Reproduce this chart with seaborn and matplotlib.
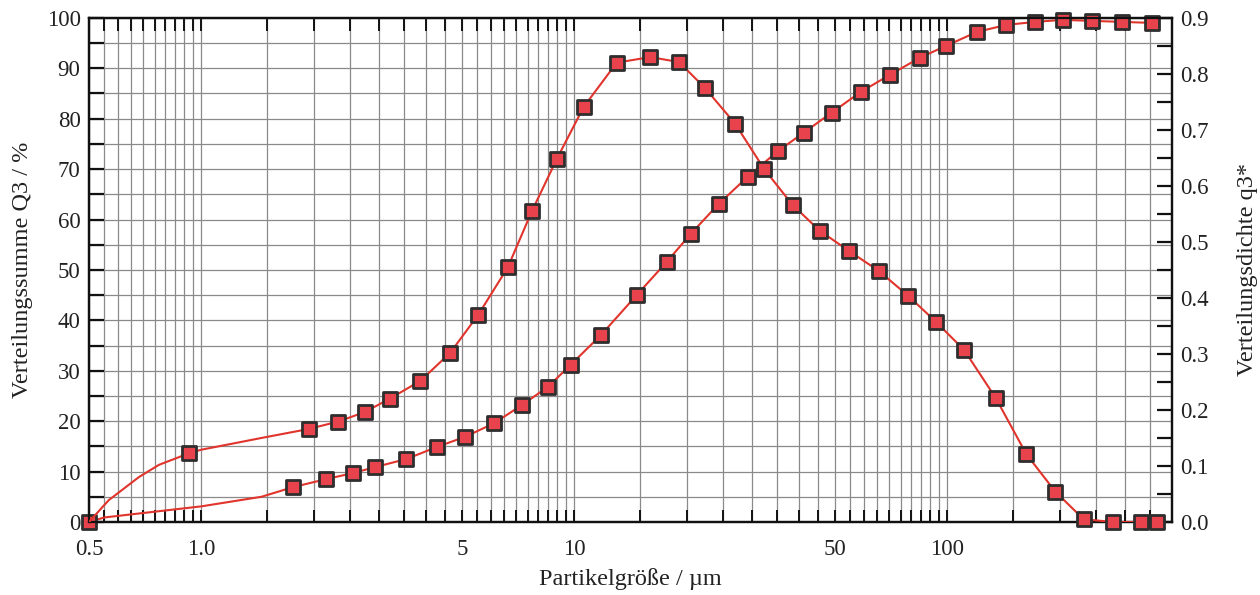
import numpy as np
import pandas as pd
import matplotlib
matplotlib.use("Agg")
import matplotlib.pyplot as plt
import matplotlib.ticker as mticker
import seaborn as sns

# ---------------- data ----------------
q3_sum_x = [0.5, 1.76, 2.16, 2.55, 2.93, 3.55, 4.29, 5.10, 6.10, 7.24, 8.50, 9.79,
            11.8, 14.7, 17.7, 20.5, 24.4, 29.2, 35.2, 41.2, 49.0, 58.6, 70.2, 84.5,
            99.0, 120, 144, 172, 204, 245, 294, 353]
q3_sum_y = [0.0, 6.9, 8.5, 9.7, 10.9, 12.5, 14.9, 16.9, 19.6, 23.2, 26.8, 31.2,
            37.1, 45.0, 51.6, 57.1, 63.1, 68.5, 73.6, 77.2, 81.2, 85.3, 88.7, 92.1,
            94.4, 97.2, 98.6, 99.2, 99.6, 99.4, 99.2, 99.0]
# unmarked points of the Q3 curve (start segment)
q3_sum_curve_x = [0.55, 1.0, 1.45]
q3_sum_curve_y = [0.9, 3.1, 5.0]

dens_x = [0.93, 1.94, 2.32, 2.74, 3.2, 3.87, 4.65, 5.53, 6.64, 7.7, 8.98, 10.6,
          13.0, 16.0, 19.1, 22.4, 27.0, 32.3, 38.5, 45.5, 54.5, 65.6, 78.5, 93.4,
          111, 135, 163, 195, 232, 278, 330, 365]
dens_y = [0.123, 0.166, 0.179, 0.196, 0.220, 0.252, 0.302, 0.370, 0.455, 0.555, 0.648, 0.741,
          0.820, 0.830, 0.821, 0.775, 0.711, 0.630, 0.566, 0.520, 0.484, 0.448, 0.404, 0.357,
          0.307, 0.221, 0.121, 0.054, 0.005, 0.0, 0.0, 0.0]
# unmarked points of the density curve
dens_curve_x = [0.5, 0.565, 0.68, 0.77, 1.0, 1.45]
dens_curve_y = [0.0, 0.039, 0.080, 0.102, 0.129, 0.150]

x_labels = ["0.5", "1.0", "5", "10", "50", "100"]
x_label_vals = [0.5, 1.0, 5, 10, 50, 100]

xlabel = "Partikelgröße / µm"
ylabel_left = "Verteilungssumme Q3 / %"
ylabel_right = "Verteilungsdichte q3*"

# ---------------- style ----------------
sns.set_theme(style="white")
plt.rcParams["font.family"] = ["Liberation Serif", "DejaVu Serif"]

LINE = "#e0342c"
FILL = "#e8424c"
EDGE = "#2e2e2e"
GRID = "#8a8a8a"
FS = 16.5
FSL = 17.5

fig = plt.figure(figsize=(12.6, 5.95), dpi=100)
ax = fig.add_axes([0.0706, 0.1227, 0.8594, 0.8473])
ax2 = ax.twinx()

# lines
sum_line = pd.DataFrame({"x": q3_sum_x + q3_sum_curve_x, "y": q3_sum_y + q3_sum_curve_y}).sort_values("x")
den_line = pd.DataFrame({"x": dens_x + dens_curve_x, "y": dens_y + dens_curve_y}).sort_values("x")

sns.lineplot(data=sum_line, x="x", y="y", ax=ax, color=LINE, lw=1.5, sort=True,
             estimator=None, zorder=3)
sns.scatterplot(x=q3_sum_x, y=q3_sum_y, ax=ax, marker="s", s=90, color=FILL,
                edgecolor=EDGE, linewidth=2.0, zorder=4, clip_on=False)

sns.lineplot(data=den_line, x="x", y="y", ax=ax2, color=LINE, lw=1.5, sort=True,
             estimator=None, zorder=3)
sns.scatterplot(x=dens_x, y=dens_y, ax=ax2, marker="s", s=90, color=FILL,
                edgecolor=EDGE, linewidth=2.0, zorder=4, clip_on=False)

# x axis
ax.set_xscale("log")
ax.set_xlim(0.5, 400)
grid_pos = np.concatenate([np.arange(0.55, 1.0, 0.05), np.arange(1.0, 10.0, 0.5),
                           np.arange(10, 100, 5), np.arange(100, 400, 50)])
ax.xaxis.set_major_locator(mticker.FixedLocator(x_label_vals))
ax.xaxis.set_major_formatter(mticker.FixedFormatter(x_labels))
ax.xaxis.set_minor_locator(mticker.FixedLocator(grid_pos))
ax.xaxis.set_minor_formatter(mticker.NullFormatter())

# y axes
ax.set_ylim(0, 100)
ax.yaxis.set_major_locator(mticker.MultipleLocator(10))
ax.yaxis.set_minor_locator(mticker.MultipleLocator(5))
ax2.set_ylim(0, 0.9)
ax2.yaxis.set_major_locator(mticker.MultipleLocator(0.1))
ax2.yaxis.set_minor_locator(mticker.MultipleLocator(0.05))
ax2.yaxis.set_major_formatter(mticker.FormatStrFormatter("%.1f"))

ax.grid(True, which="both", color=GRID, lw=0.9)
ax2.grid(False)
ax.set_axisbelow(True)

ax.tick_params(axis="x", which="both", direction="in", top=True, bottom=True,
               length=9, width=1.4, color="#111111", labelsize=FS, pad=12, labelcolor="#222222")
ax.tick_params(axis="y", which="both", direction="in", left=True, right=False,
               length=11, width=1.6, color="#111111", labelsize=FS, pad=6, labelcolor="#222222")
ax2.tick_params(axis="y", which="both", direction="in", right=True, left=False,
                length=11, width=1.6, color="#111111", labelsize=FS, pad=6, labelcolor="#222222")

for a in (ax, ax2):
    for s in a.spines.values():
        s.set_color("#111111")
        s.set_linewidth(1.6)

ax.set_xlabel(xlabel, fontsize=FSL, color="#222222", labelpad=6)
ax.set_ylabel(ylabel_left, fontsize=FSL, color="#222222", labelpad=10)
ax2.set_ylabel(ylabel_right, fontsize=FSL, color="#222222", labelpad=20, rotation=90)

fig.savefig("out.png", dpi=100, facecolor="white")
